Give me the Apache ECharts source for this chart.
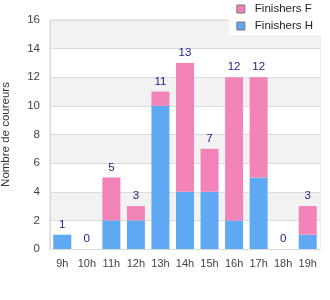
<!DOCTYPE html>
<html lang="fr">
<head>
  <meta charset="utf-8" />
  <title>Finishers par heure</title>
  <script src="https://cdn.jsdelivr.net/npm/echarts@6/dist/echarts.min.js"></script>
</head>
<body style="margin:0">
  <div id="container" style="width:330px;height:300px"></div>
  <script type="text/javascript">
    var heures = ['9h', '10h', '11h', '12h', '13h', '14h', '15h', '16h', '17h', '18h', '19h'];
    var finishersH = [1, 0, 2, 2, 10, 4, 4, 2, 5, 0, 1];
    var finishersF = [0, 0, 3, 1, 1, 9, 3, 10, 7, 0, 2];
    var totaux = [1, 0, 5, 3, 11, 13, 7, 12, 12, 0, 3];

    var myChart = echarts.init(document.getElementById('container'), null, { renderer: 'canvas' });
    var font = 'Liberation Sans, Arial, sans-serif';

    var option = {
      animation: false,
      textStyle: { fontFamily: font },
      grid: {
        left: 50, right: 10, top: 20, bottom: 51,
        outerBoundsMode: 'none',
        containLabel: false,
        show: true, borderColor: '#d9d9d9', borderWidth: 1, backgroundColor: '#fff'
      },
      legend: {
        data: ['Finishers F', 'Finishers H'],
        orient: 'vertical',
        right: 0, top: 0,
        padding: [3, 17, 3, 7],
        itemGap: 5,
        itemWidth: 8, itemHeight: 8,
        backgroundColor: '#fff',
        icon: 'rect',
        itemStyle: { borderColor: '#777', borderWidth: 1 },
        textStyle: { fontSize: 11.5, color: '#222', fontFamily: font, padding: [0, 0, 0, 5] }
      },
      xAxis: {
        type: 'category',
        data: heures,
        axisTick: { show: false },
        axisLine: { lineStyle: { color: '#d9d9d9' } },
        axisLabel: { color: '#444', fontSize: 11, margin: 9, interval: 0, fontFamily: font }
      },
      yAxis: {
        type: 'value',
        min: 0, max: 16, interval: 2,
        name: 'Nombre de coureurs',
        nameLocation: 'middle',
        nameGap: 38,
        nameTextStyle: { color: '#333', fontSize: 11.5, fontFamily: font },
        axisLine: { show: true, lineStyle: { color: '#d9d9d9' } },
        axisLabel: { color: '#444', fontSize: 11.5, margin: 10, fontFamily: font },
        splitLine: { lineStyle: { color: '#dcdcdc' } },
        splitArea: { show: true, areaStyle: { color: ['#fff', '#f2f2f2'] } }
      },
      series: [
        {
          name: 'Finishers H',
          type: 'bar',
          stack: 'total',
          barWidth: 18,
          data: finishersH,
          itemStyle: { color: '#5fa8f2', borderWidth: 0 }
        },
        {
          name: 'Finishers F',
          type: 'bar',
          stack: 'total',
          barWidth: 18,
          data: finishersF,
          itemStyle: { color: '#f283b9', borderWidth: 0 },
          label: {
            show: true,
            position: 'top',
            distance: 4,
            color: '#1c1c8c',
            fontSize: 11.5,
            fontFamily: font,
            formatter: function (p) { return totaux[p.dataIndex]; }
          }
        }
      ]
    };

    myChart.setOption(option);
    window.addEventListener('resize', myChart.resize);
  </script>
</body>
</html>
